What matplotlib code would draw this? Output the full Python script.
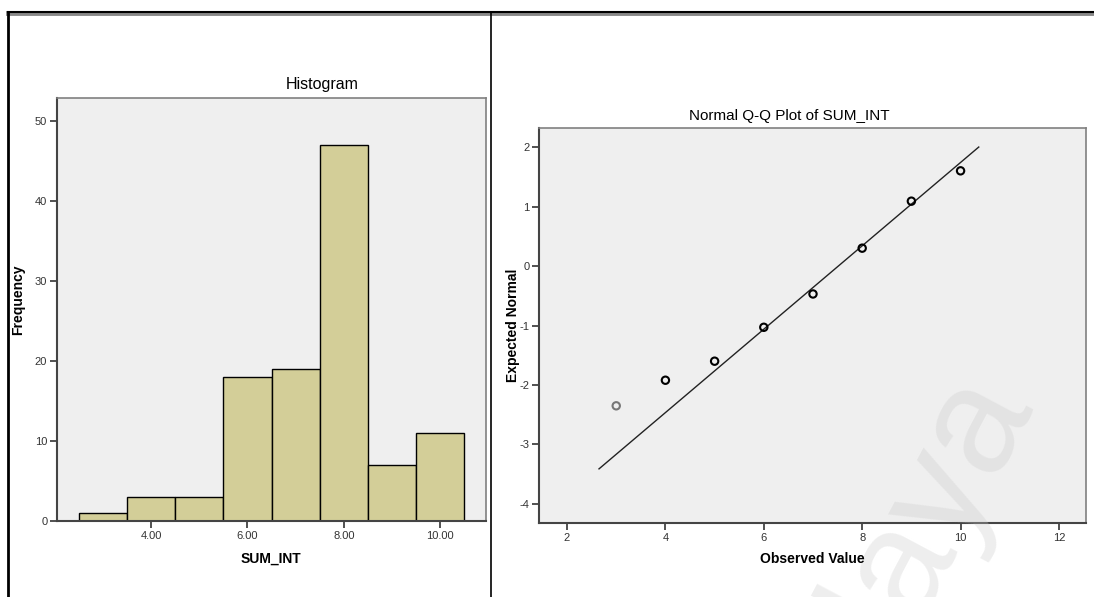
import matplotlib
matplotlib.use("Agg")
import matplotlib.pyplot as plt
from matplotlib.lines import Line2D

plt.rcParams['font.family'] = ['Liberation Sans', 'DejaVu Sans']
plt.rcParams['axes.unicode_minus'] = False

# histogram data
bin_centers = [3, 4, 5, 6, 7, 8, 9, 10]
freq = [1, 3, 3, 18, 19, 47, 7, 11]
hist_xticks = [4, 6, 8, 10]
hist_xticklabels = ['4.00', '6.00', '8.00', '10.00']
hist_yticks = [0, 10, 20, 30, 40, 50]

# Q-Q plot data
qq_obs = [3, 4, 5, 6, 7, 8, 9, 10]
qq_expected = [-2.35, -1.92, -1.60, -1.03, -0.47, 0.30, 1.09, 1.60]
qq_colors = ['#777777', 'black', 'black', 'black', 'black', 'black', 'black', 'black']
ref_line_x = [2.65, 10.37]
ref_line_y = [-3.41, 2.0]
qq_xticks = [2, 4, 6, 8, 10, 12]
qq_yticks = [-4, -3, -2, -1, 0, 1, 2]

W, H = 1094, 597
fig = plt.figure(figsize=(W / 100, H / 100), dpi=100)


def px(x, y):
    return x / W, 1 - y / H


def ax_rect(x0, y0, x1, y1):
    return [x0 / W, 1 - y1 / H, (x1 - x0) / W, (y1 - y0) / H]


def style_axes(ax):
    ax.set_facecolor('#efefef')
    for side in ['top', 'right']:
        ax.spines[side].set_color('#808080')
        ax.spines[side].set_linewidth(1.2)
    for side in ['left', 'bottom']:
        ax.spines[side].set_color('#444444')
        ax.spines[side].set_linewidth(1.5)
    ax.tick_params(direction='out', length=5, width=1.2, color='#333333',
                   labelsize=8, labelcolor='#333333', pad=2)


# left: histogram
ax1 = fig.add_axes(ax_rect(57, 98, 486, 521))
style_axes(ax1)
ax1.bar(bin_centers, freq, width=1.0, color='#d3ce98', edgecolor='black', linewidth=1.0, zorder=2)
ax1.set_xlim(2.05, 10.95)
ax1.set_ylim(0, 52.9)
ax1.set_xticks(hist_xticks)
ax1.set_xticklabels(hist_xticklabels)
ax1.set_yticks(hist_yticks)
fig.text(*px(322, 84), 'Histogram', ha='center', va='center', fontsize=11.5)
fig.text(*px(271, 559), 'SUM_INT', ha='center', va='center', fontsize=10, fontweight='bold')
fig.text(*px(18, 300), 'Frequency', ha='center', va='center', fontsize=10,
         fontweight='bold', rotation=90)

# right: normal Q-Q plot
ax2 = fig.add_axes(ax_rect(539, 128, 1086, 523))
style_axes(ax2)
ax2.plot(ref_line_x, ref_line_y, color='#222222', linewidth=1.0, zorder=2)
ax2.scatter(qq_obs, qq_expected, s=28, facecolors='none', edgecolors=qq_colors,
            linewidths=1.5, zorder=3)
ax2.set_xlim(1.43, 12.55)
ax2.set_ylim(-4.32, 2.32)
ax2.set_xticks(qq_xticks)
ax2.set_yticks(qq_yticks)
fig.text(*px(789, 116), 'Normal Q-Q Plot of SUM_INT', ha='center', va='center', fontsize=11)
fig.text(*px(812, 559), 'Observed Value', ha='center', va='center', fontsize=10, fontweight='bold')
fig.text(*px(513, 325), 'Expected Normal', ha='center', va='center', fontsize=10,
         fontweight='bold', rotation=90)

# document frame
fig.add_artist(Line2D([8 / W, 1], [1 - 13 / H, 1 - 13 / H], color='#888888', linewidth=3.5))
fig.add_artist(Line2D([8 / W, 1], [1 - 12 / H, 1 - 12 / H], color='black', linewidth=1.5))
fig.add_artist(Line2D([8 / W, 8 / W], [0, 1 - 12 / H], color='black', linewidth=2))
fig.add_artist(Line2D([491 / W, 491 / W], [0, 1 - 12 / H], color='black', linewidth=1.2))

# watermark
fig.text(*px(930, 505), 'laya', ha='center', va='center', fontsize=110,
         color='#c8c8c8', alpha=0.3, rotation=62, zorder=2)

fig.savefig('out.png', dpi=100)
